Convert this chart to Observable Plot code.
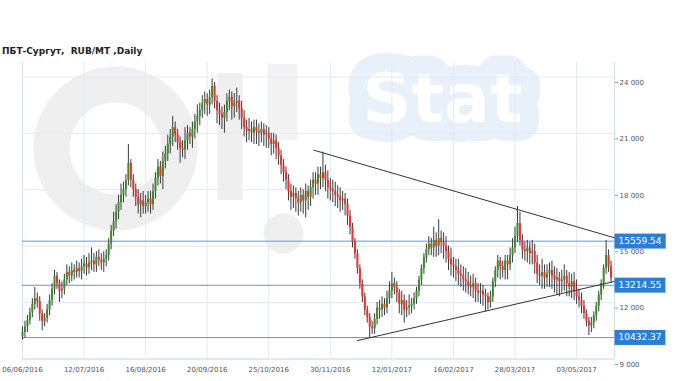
<!DOCTYPE html>
<html><head><meta charset="utf-8">
<script src="https://cdn.jsdelivr.net/npm/d3@7"></script>
<script src="https://cdn.jsdelivr.net/npm/@observablehq/plot@0.6"></script>
<style>
html,body{margin:0;padding:0;background:#fff;}
#wrap{position:relative;width:680px;height:381px;overflow:hidden;}
#title{position:absolute;left:2px;top:46px;font:bold 9px "DejaVu Sans";line-height:11px;color:#222;white-space:pre;}
</style></head><body>
<div id="wrap"><div id="title">ПБТ-Сургут,  RUB/MT ,Daily</div></div>
<script>
const dateLabels = ["06/06/2016","12/07/2016","16/08/2016","20/09/2016","25/10/2016","30/11/2016","12/01/2017","16/02/2017","28/03/2017","03/05/2017"];
const dateTickBars = [0,25,50,75,100,125,150,175,200,225];
const yTicks = [9000,12000,15000,18000,21000,24000];
const levels = [15559.54, 13214.55, 10432.37];
const upperTrendBar = [118.3, 240.4];
const upperTrendVal = [20400, 15740];
const lowerTrendBar = [136, 240.4];
const lowerTrendVal = [10270, 13420];

const open = [
10500,10700,11000,11350,11750,12200,12500,12350,11700,11300,
11450,11900,12400,13000,13700,13300,12900,13000,13500,13900,
13700,14000,13900,14100,13950,14200,14350,14150,14400,14500,
14300,14700,14550,14400,14600,14800,15400,16100,16600,17100,
17600,18000,18300,18800,19700,18800,18300,17900,17500,17700,
17400,17600,17800,17500,18200,18900,19500,19000,19800,20200,
20700,21100,21600,21200,20800,20500,20400,20900,21300,21100,
21500,21900,22200,22500,22900,23100,22800,23200,23800,23000,
22500,22300,22100,22400,23000,23200,22700,22900,23000,22600,
22100,21600,21400,21500,21300,21600,21400,21300,21500,21200,
21300,21000,20700,20900,20500,20100,19600,19200,18800,18200,
17900,18100,17800,17600,18000,17700,18200,17900,18400,18800,
18600,19100,18900,19200,18800,18400,18300,18200,18000,17900,
17700,17800,17500,16900,16300,15500,14900,14100,13300,12600,
11900,11500,11000,10900,11400,12000,11900,12200,12000,12500,
12900,13300,13100,12800,12200,12400,11900,12000,12100,12200,
12500,12900,13500,14100,14700,15100,15400,15200,15600,15300,
15700,15500,15300,15000,14600,14300,14200,14000,13800,13700,
13500,13400,13200,13100,13300,12900,12800,12900,12700,12600,
12300,12600,13400,14000,14500,14200,14000,14500,14300,14800,
15200,15800,16500,15600,15100,15000,15200,14900,15000,14400,
13800,13700,13900,13600,13800,14000,13700,13500,13600,13400,
13500,13700,13300,13100,13400,12900,12600,12400,12100,11700,
11300,11050,11200,11600,12100,12700,13300,14100,14800,14200];

const close = [
10700,11000,11350,11750,12200,12500,12350,11700,11300,11450,
11900,12400,13000,13700,13300,12900,13000,13500,13900,13700,
14000,13900,14100,13950,14200,14350,14150,14400,14500,14300,
14700,14550,14400,14600,14800,15400,16100,16600,17100,17600,
18000,18300,18800,19700,18800,18300,17900,17500,17700,17400,
17600,17800,17500,18200,18900,19500,19000,19800,20200,20700,
21100,21600,21200,20800,20500,20400,20900,21300,21100,21500,
21900,22200,22500,22900,23100,22800,23200,23800,23000,22500,
22300,22100,22400,23000,23200,22700,22900,23000,22600,22100,
21600,21400,21500,21300,21600,21400,21300,21500,21200,21300,
21000,20700,20900,20500,20100,19600,19200,18800,18200,17900,
18100,17800,17600,18000,17700,18200,17900,18400,18800,18600,
19100,18900,19200,18800,18400,18300,18200,18000,17900,17700,
17800,17500,16900,16300,15500,14900,14100,13300,12600,11900,
11500,11000,10900,11400,12000,11900,12200,12000,12500,12900,
13300,13100,12800,12200,12400,11900,12000,12100,12200,12500,
12900,13500,14100,14700,15100,15400,15200,15600,15300,15700,
15500,15300,15000,14600,14300,14200,14000,13800,13700,13500,
13400,13200,13100,13300,12900,12800,12900,12700,12600,12300,
12600,13400,14000,14500,14200,14000,14500,14300,14800,15200,
15800,16500,15600,15100,15000,15200,14900,15000,14400,13800,
13700,13900,13600,13800,14000,13700,13500,13600,13400,13500,
13700,13300,13100,13400,12900,12600,12400,12100,11700,11300,
11050,11200,11600,12100,12700,13300,14100,14800,14200,13600];

const high = [
11000,11300,11600,12000,12500,13100,12800,12600,11900,11700,
12200,12700,13300,14000,13900,13500,13400,13800,14300,14200,
14400,14300,14500,14400,14600,14800,14700,14900,15200,14900,
15000,15100,14900,15000,15100,15700,16400,17100,17500,18000,
18600,18700,19100,20700,19900,19100,18600,18300,18100,18200,
18000,18200,18200,18600,19200,19900,19800,20300,20600,21200,
21500,22200,21900,21500,21100,20900,21600,21700,21600,21900,
22300,22800,22900,23300,23500,23400,23600,24200,24000,23300,
22900,22700,22800,23400,23600,23500,23400,23700,23300,23000,
22500,22000,22100,21900,22000,22000,21800,21900,21800,21700,
21600,21300,21300,21200,20800,20400,19900,19500,19100,18600,
18500,18400,18200,18400,18300,18600,18500,18800,19200,19200,
19500,19500,20300,19600,19300,18900,18800,18700,18500,18400,
18200,18100,17800,17200,16500,15700,15100,14300,13500,12800,
12100,11700,11300,11700,12300,12400,12600,12500,12900,13400,
13900,13600,13400,13000,12900,12700,12400,12700,12500,12800,
13100,13700,14300,14900,15400,15800,15700,16300,16000,16700,
16100,16000,15800,15300,15200,14700,14600,14600,14300,14200,
14100,13900,13700,13800,13600,13300,13300,13200,13000,12800,
12900,13600,14200,14800,14700,14500,14800,14800,15200,15700,
16300,17400,17100,15900,15500,15600,15500,15600,15400,14800,
14300,14600,14300,14300,14400,14500,14200,14100,13900,14000,
14300,14000,13900,13800,13900,13500,13000,12800,12400,11900,
11500,11500,11800,12300,12900,13500,14300,15600,15100,14500];

const low = [
10300,10400,10700,11100,11500,11900,12000,11300,10800,11000,
11200,11600,12100,12700,13000,12300,12500,12700,13200,13300,
13400,13500,13600,13600,13500,13800,13700,13800,14000,13900,
13900,14200,14000,13900,14200,14500,15100,15800,16200,16700,
17200,17600,17900,18500,18400,17900,17400,17000,16800,17000,
17000,17100,17000,17200,17800,18500,18600,18300,19400,19800,
20200,20600,20800,20400,19700,20000,19900,20400,20700,20500,
21000,21300,21700,22100,22300,22200,22300,22800,22600,21800,
21700,21500,21300,21900,22500,22000,22100,22400,22000,21500,
21100,20800,20900,20800,20700,20700,20600,20800,20600,20500,
20500,20100,20200,19900,19600,19100,18700,18300,17700,17200,
17300,17100,16900,17100,17000,16800,17200,17400,17800,18000,
18000,18300,18400,18200,17800,17700,17600,17400,17300,17100,
17200,16900,16400,15900,15200,14600,13800,13000,12300,11600,
11200,10432,10600,10600,11100,11400,11500,11600,11700,12200,
12500,12700,12300,11700,11600,11200,11500,11600,11700,11900,
12200,12600,13200,13800,14400,14800,14800,14700,14700,14800,
14900,14600,14400,14000,13700,13600,13400,13200,13100,12900,
12800,12700,12600,12500,12300,12300,12200,12100,11800,11900,
12000,12300,13100,13600,13500,13600,13500,13500,14000,14400,
14900,15500,15300,14600,14500,14400,14300,14300,13800,13300,
13200,13000,13000,13100,13100,13000,12800,12700,12600,12800,
12900,12600,12600,12500,12400,12200,12000,11700,11400,11000,
10540,10700,10900,11300,11800,12400,13000,13800,13900,13300];

const bars = close.map((c, i) => ({i, o: open[i], h: high[i], l: low[i], c}));
const upper = upperTrendBar.map((b, k) => ({b, v: upperTrendVal[k]}));
const lower = lowerTrendBar.map((b, k) => ({b, v: lowerTrendVal[k]}));
const xMax = 240.4;
const GREEN = "#3b8c2b", RED = "#f72b2b", GRID = "#e0eaf5", FRAMEC = "#d2dfed", LEVEL = "#529ae2", BOX = "#2a7fd5";
const WM = "#efefef", WMB = "#e8f0f9";
const fmtY = d => d3.format(",")(d).replace(/,/g, " ");

const chart = Plot.plot({
  width: 680, height: 381,
  marginLeft: 22, marginRight: 66, marginTop: 82, marginBottom: 17,
  style: {fontFamily: "DejaVu Sans", fontSize: "7px", background: "transparent", color: "#555"},
  x: {type: "linear", domain: [0, xMax], axis: null},
  y: {domain: [9000, 24000], axis: null},
  color: {type: "identity"},
  marks: [
    // faint OilStat watermark (decorative shapes)
    Plot.dot([0], {frameAnchor: "top-left", dx: 93, dy: 66, r: 64, fill: "none", stroke: WM, strokeWidth: 36}),
    Plot.ruleX([0], {dx: 207.5, insetTop: -9, insetBottom: 164, stroke: WM, strokeWidth: 25}),
    Plot.ruleX([0], {dx: 260.5, insetTop: -18, insetBottom: 224, stroke: "#f3f3f3", strokeWidth: 29}),
    Plot.dot([0], {frameAnchor: "top-left", dx: 261, dy: 151, r: 20, fill: WM}),
    Plot.text(["Stat"], {frameAnchor: "top-left", dx: 420, dy: 18, fontSize: 68, fontWeight: "bold", fill: "#ffffff", stroke: WMB, strokeWidth: 38, strokeLinejoin: "round", paintOrder: "stroke", textAnchor: "middle", lineAnchor: "middle"}),
    Plot.gridY(yTicks, {stroke: GRID, strokeOpacity: 1, dy: -5.5}),
    Plot.ruleX(dateTickBars, {stroke: GRID, insetTop: -20, insetBottom: 5.5}),
    Plot.ruleX([0, xMax], {stroke: FRAMEC, insetTop: -20, insetBottom: 5.5}),
    Plot.ruleY([9000], {stroke: FRAMEC, dy: -5.5}),
    Plot.ruleY(levels, {stroke: LEVEL, strokeWidth: 1}),
    Plot.ruleX(bars, {x: "i", y1: "l", y2: "h", stroke: "#3a3a3a", strokeWidth: 1}),
    Plot.ruleX(bars, {x: "i", y1: "o", y2: "c", stroke: d => d.c >= d.o ? GREEN : RED, strokeWidth: 2}),
    Plot.line(upper, {x: "b", y: "v", stroke: "#333", strokeWidth: 1}),
    Plot.line(lower, {x: "b", y: "v", stroke: "#333", strokeWidth: 1}),
    Plot.axisX(dateTickBars, {tickFormat: d => dateLabels[dateTickBars.indexOf(d)], tickSize: 0, tickPadding: 3, fontSize: 7, fill: "#555"}),
    Plot.axisY(yTicks, {anchor: "right", tickFormat: fmtY, tickSize: 3, tickPadding: 2, fontSize: 7, fill: "#555", stroke: "#999"}),
    Plot.text(levels, {frameAnchor: "right", y: d => d, text: d => d3.format(".2f")(d), dx: 4, textAnchor: "start", fill: "white", fontSize: 9, className: "lvl"})
  ]
});
const wrap = document.getElementById("wrap");
wrap.insertBefore(chart, wrap.firstChild);
chart.style.position = "absolute"; chart.style.left = "0"; chart.style.top = "0";
chart.querySelectorAll("g.lvl text").forEach(t => {
  const bb = t.getBBox();
  const r = document.createElementNS("http://www.w3.org/2000/svg", "rect");
  r.setAttribute("x", bb.x - 4);
  r.setAttribute("y", bb.y - 2.5);
  r.setAttribute("width", bb.width + 8);
  r.setAttribute("height", bb.height + 5);
  r.setAttribute("fill", BOX);
  if (t.getAttribute("transform")) r.setAttribute("transform", t.getAttribute("transform"));
  t.parentNode.insertBefore(r, t);
});
</script>
</body></html>
